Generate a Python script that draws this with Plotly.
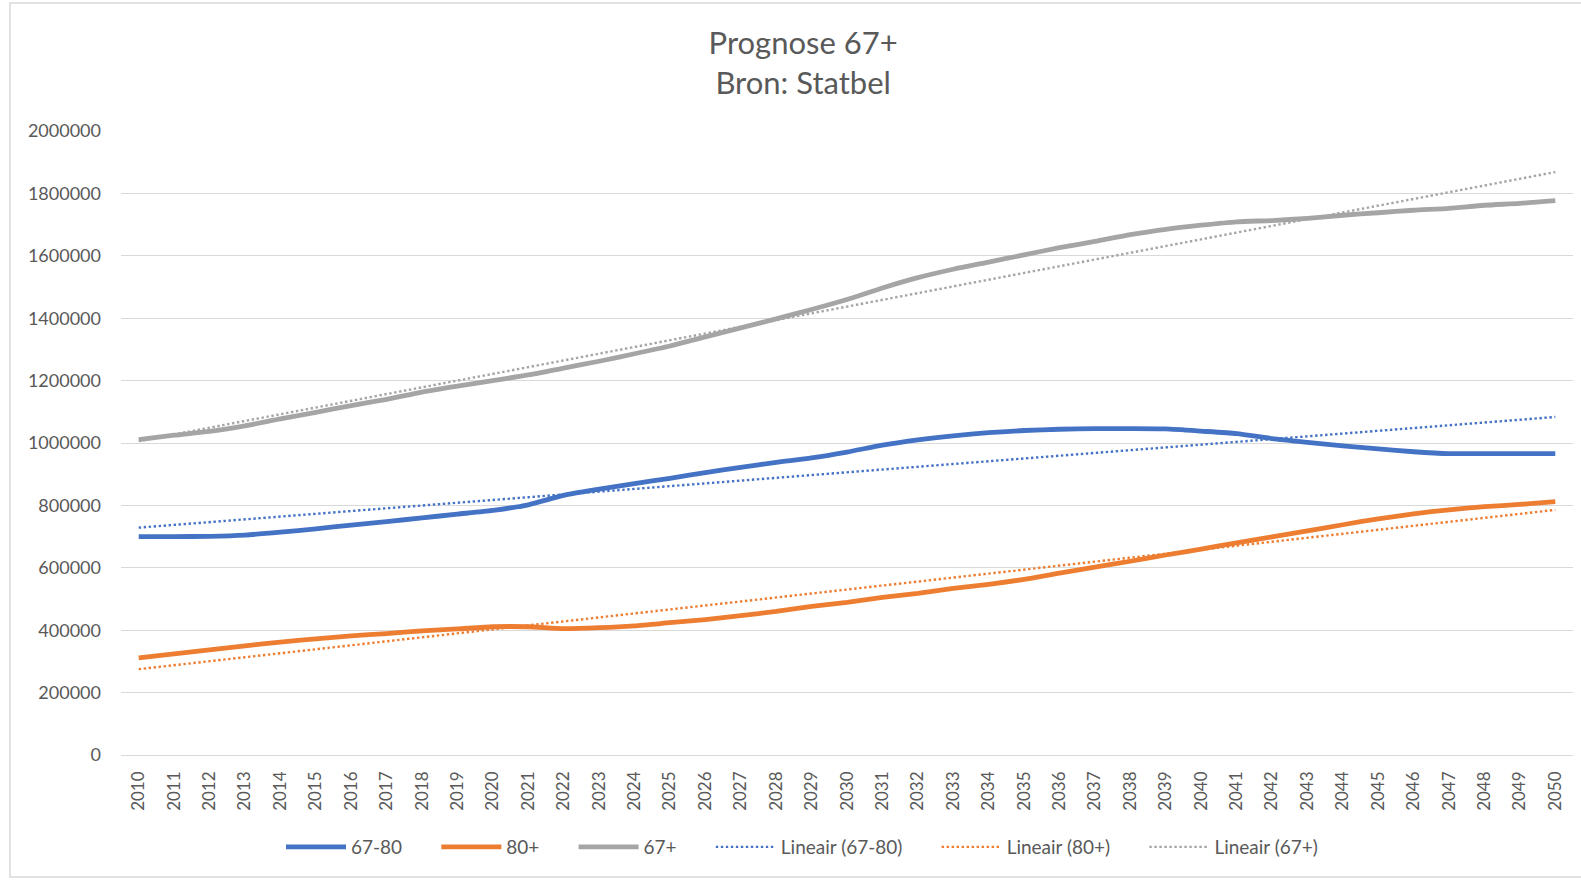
import numpy as np
import plotly.graph_objects as go

years = list(range(2010, 2051))
categories = [str(y) for y in years]

age_67_80 = [700000, 700000, 701000, 705000, 714000, 725000, 737000, 748000, 760000, 772000,
             784000, 802000, 832000, 852000, 870000, 887000, 905000, 922000, 938000, 952000,
             971000, 993000, 1010000, 1023000, 1033000, 1040000, 1044000, 1046000, 1046000, 1045000,
             1038000, 1030000, 1014000, 1002000, 991000, 981000, 972000, 966000, 966000, 966000,
             966000]
age_80_plus = [311000, 324000, 337000, 350000, 362000, 372000, 382000, 389000, 398000, 404000,
               411000, 411000, 405000, 408000, 414000, 424000, 434000, 447000, 460000, 476000,
               489000, 505000, 518000, 534000, 547000, 563000, 583000, 602000, 621000, 641000,
               660000, 680000, 699000, 718000, 738000, 757000, 773000, 786000, 796000, 803000,
               812000]
age_67_plus = [1011000, 1025000, 1037000, 1055000, 1077000, 1098000, 1120000, 1140000, 1163000, 1182000,
               1200000, 1218000, 1240000, 1262000, 1286000, 1311000, 1340000, 1369000, 1398000, 1428000,
               1460000, 1497000, 1530000, 1557000, 1580000, 1603000, 1626000, 1646000, 1668000, 1685000,
               1698000, 1709000, 1713000, 1720000, 1730000, 1738000, 1746000, 1752000, 1762000, 1768000,
               1777000]

series_names = ["67-80", "80+", "67+"]
series_values = [age_67_80, age_80_plus, age_67_plus]
colors = ["#4472C4", "#ED7D31", "#A5A5A5"]

FONT = "Lato, Open Sans, sans-serif"
TXT = "#595959"
PAD = "\u00a0" * 6

fig = go.Figure()
idx = np.arange(len(years))
for name, vals, col in zip(series_names, series_values, colors):
    fig.add_trace(go.Scatter(x=categories, y=vals, mode="lines", name=name + PAD,
                             line=dict(color=col, width=4.8, shape="spline", smoothing=0.6)))
for i, (name, vals, col) in enumerate(zip(series_names, series_values, colors)):
    slope, intercept = np.polyfit(idx, np.array(vals, dtype=float), 1)
    trend = slope * idx + intercept
    label = f"Lineair ({name})" + (PAD if i < 2 else "")
    fig.add_trace(go.Scatter(x=categories, y=trend, mode="lines", name=label,
                             line=dict(color=col, width=2.4, dash="2.4px,2.6px")))

L, R, T, B = 121, 1573, 131, 755
W, H = 1581, 880
pw, ph = R - L, B - T

def px_x(p):
    return (p - L) / pw

def px_y(p):
    return (B - p) / ph

fig.update_layout(
    width=W, height=H,
    margin=dict(l=L, r=W - R, t=T, b=H - B, autoexpand=False),
    paper_bgcolor="white", plot_bgcolor="white",
    font=dict(family=FONT, color=TXT, size=18),
    title=dict(text="Prognose 67+<br>Bron: Statbel", x=0.508, xanchor="center",
               y=1 - 54 / H, yanchor="middle",
               font=dict(family=FONT, size=31, color=TXT)),
    xaxis=dict(type="category", range=[-0.5, 40.5], tickangle=-90, showgrid=False,
               showline=False, ticks="", tickfont=dict(size=17, color=TXT),
               ticklabelstandoff=12, zeroline=False),
    yaxis=dict(range=[0, 2000000], dtick=200000, tickformat="d", showgrid=True,
               gridcolor="#D9D9D9", gridwidth=1, zeroline=True, zerolinecolor="#D9D9D9",
               zerolinewidth=1, showline=False, ticks="", tickfont=dict(size=18, color=TXT),
               ticklabelstandoff=19),
    legend=dict(orientation="h", x=px_x(802), xanchor="center", y=px_y(847), yanchor="middle",
                font=dict(size=19, color=TXT), itemwidth=60, tracegroupgap=0,
                bgcolor="rgba(0,0,0,0)"),
    showlegend=True,
)

fig.add_shape(type="rect", xref="paper", yref="paper",
              x0=px_x(10), x1=px_x(1600), y0=px_y(877), y1=px_y(3),
              line=dict(color="#D9D9D9", width=1.5), fillcolor="rgba(0,0,0,0)", layer="below")

fig.write_html("out.html", config={"displayModeBar": False},
               post_script="document.body.style.margin='0';document.body.style.overflow='hidden';")
